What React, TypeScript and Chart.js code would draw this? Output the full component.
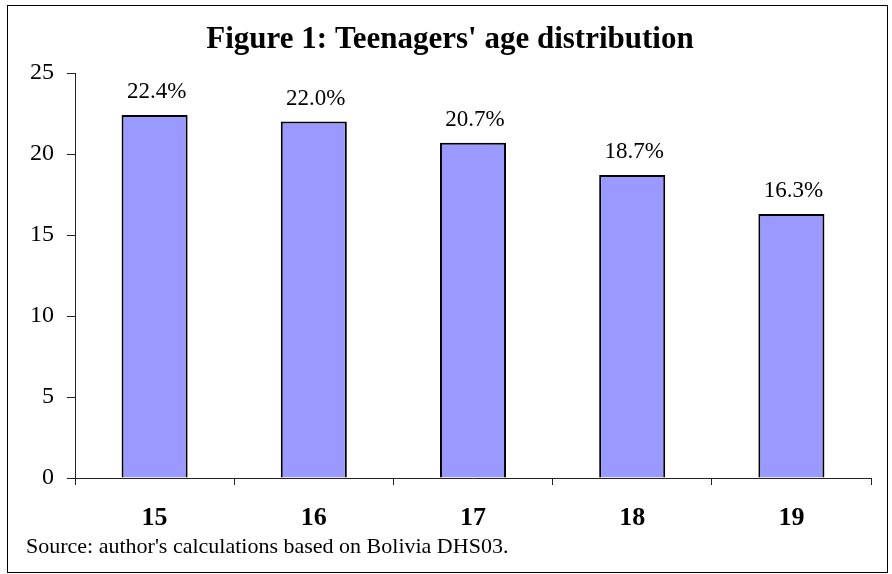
import React, { useEffect, useRef } from "react";
import { Chart, registerables } from "chart.js";

Chart.register(...registerables);

const TITLE = "Figure 1: Teenagers' age distribution";
const SOURCE = "Source: author's calculations based on Bolivia DHS03.";
const categories = ["15", "16", "17", "18", "19"];
const shares = [22.4, 22.0, 20.7, 18.7, 16.3];
const valueLabels = ["22.4%", "22.0%", "20.7%", "18.7%", "16.3%"];
const yTicks = [0, 5, 10, 15, 20, 25];

const SERIF = "'Liberation Serif', 'Times New Roman', serif";

const decorPlugin = {
  id: "decor",
  beforeDraw(chart: any) {
    const ctx = chart.ctx;
    ctx.save();
    ctx.fillStyle = "#fff";
    ctx.fillRect(0, 0, chart.width, chart.height);
    ctx.restore();
  },
  afterDraw(chart: any) {
    const ctx = chart.ctx;
    ctx.save();
    ctx.strokeStyle = "#000";
    ctx.lineWidth = 1;
    ctx.strokeRect(7.5, 5.5, 880, 567);
    ctx.fillStyle = "#000";
    ctx.font = `bold 31px ${SERIF}`;
    ctx.textAlign = "center";
    ctx.textBaseline = "alphabetic";
    ctx.fillText(TITLE, 450, 48);
    ctx.font = `22px ${SERIF}`;
    ctx.textAlign = "left";
    ctx.fillText(SOURCE, 26, 553);
    ctx.restore();
  },
  afterDatasetsDraw(chart: any) {
    const ctx = chart.ctx;
    const meta = chart.getDatasetMeta(0);
    ctx.save();
    ctx.fillStyle = "#000";
    ctx.font = `23px ${SERIF}`;
    ctx.textAlign = "center";
    ctx.textBaseline = "alphabetic";
    meta.data.forEach((bar: any, i: number) => {
      ctx.fillText(valueLabels[i], bar.x + 2, bar.y - 17);
    });
    ctx.restore();
  },
};

export default function App() {
  const ref = useRef<HTMLCanvasElement>(null);
  useEffect(() => {
    const chart = new Chart(ref.current!, {
      type: "bar",
      data: {
        labels: categories,
        datasets: [
          {
            data: shares,
            backgroundColor: "#9999FF",
            borderColor: "#000",
            borderWidth: 2,
            categoryPercentage: 1,
            barPercentage: 0.415,
          },
        ],
      },
      options: {
        animation: false,
        responsive: false,
        devicePixelRatio: 1,
        layout: { padding: { top: 73, left: 0, right: 21, bottom: 0 } },
        plugins: {
          legend: { display: false },
          title: { display: false },
          tooltip: { enabled: false },
        },
        scales: {
          x: {
            grid: {
              display: true,
              drawOnChartArea: false,
              drawTicks: true,
              tickLength: 7,
              offset: true,
              color: "#222",
            },
            border: { color: "#222", width: 1 },
            ticks: {
              color: "#000",
              padding: 18,
              font: { family: SERIF, size: 26, weight: "bold" },
            },
            afterFit(scale: any) {
              scale.height = 96;
            },
          },
          y: {
            min: 0,
            max: 25,
            afterBuildTicks(scale: any) {
              scale.ticks = yTicks.map((v) => ({ value: v }));
            },
            grid: {
              display: true,
              drawOnChartArea: false,
              drawTicks: true,
              tickLength: 8,
              color: "#222",
            },
            border: { color: "#222", width: 1 },
            ticks: {
              color: "#000",
              padding: 13,
              font: { family: SERIF, size: 24 },
            },
            afterFit(scale: any) {
              scale.width = 75;
            },
          },
        },
      },
      plugins: [decorPlugin],
    } as any);
    return () => chart.destroy();
  }, []);
  return (
    <div style={{ position: "absolute", left: 0, top: 0, width: 892, height: 574 }}>
      <canvas ref={ref} width={892} height={574} style={{ display: "block" }} />
    </div>
  );
}
